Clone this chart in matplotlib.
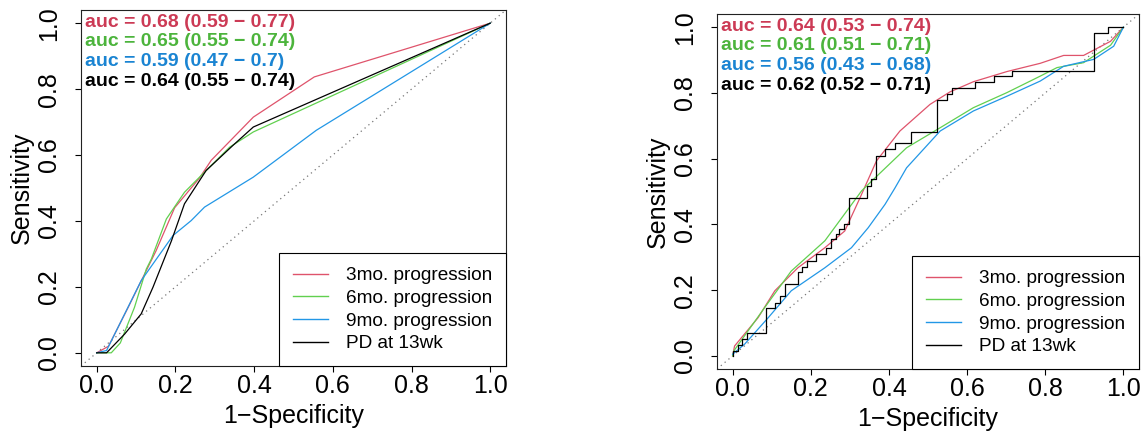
import matplotlib
matplotlib.use('Agg')
import matplotlib.pyplot as plt
from matplotlib.lines import Line2D

plt.rcParams['font.family'] = ['Liberation Sans', 'DejaVu Sans']

# shared
series_labels = ['3mo. progression', '6mo. progression', '9mo. progression', 'PD at 13wk']
series_colors = ['#DF536B', '#61D04F', '#2297E6', '#000000']
text_colors = ['#CC3A55', '#4CB43C', '#1A84D2', '#000000']
tick_values = [0.0, 0.2, 0.4, 0.6, 0.8, 1.0]
tick_labels = ['0.0', '0.2', '0.4', '0.6', '0.8', '1.0']

# left panel
left_3mo_fpr = [0.0, 0.03, 0.08, 0.151, 0.198, 0.261, 0.291, 0.398, 0.553, 1.0]
left_3mo_tpr = [0.0, 0.02, 0.138, 0.31, 0.44, 0.53, 0.584, 0.715, 0.837, 1.0]
left_6mo_fpr = [0.0, 0.037, 0.06, 0.096, 0.126, 0.139, 0.177, 0.223, 0.253, 0.338, 0.398, 1.0]
left_6mo_tpr = [0.0, 0.0, 0.03, 0.138, 0.254, 0.285, 0.406, 0.487, 0.523, 0.624, 0.67, 1.0]
left_9mo_fpr = [0.0, 0.025, 0.113, 0.194, 0.24, 0.274, 0.398, 0.558, 1.0]
left_9mo_tpr = [0.0, 0.007, 0.219, 0.356, 0.401, 0.442, 0.533, 0.675, 1.0]
left_pd_fpr = [0.0, 0.025, 0.071, 0.113, 0.143, 0.19, 0.223, 0.278, 0.346, 0.398, 1.0]
left_pd_tpr = [0.0, 0.0, 0.057, 0.118, 0.199, 0.34, 0.452, 0.553, 0.629, 0.685, 1.0]
left_auc = [0.68, 0.65, 0.59, 0.64]
left_auc_lo = [0.59, 0.55, 0.47, 0.55]
left_auc_hi = [0.77, 0.74, 0.7, 0.74]

# right panel
right_3mo_fpr = [0.0, 0.005, 0.065, 0.108, 0.167, 0.236, 0.287, 0.326, 0.368, 0.428,
                 0.505, 0.556, 0.616, 0.702, 0.787, 0.847, 0.898, 0.967, 1.0]
right_3mo_tpr = [0.0, 0.03, 0.116, 0.198, 0.268, 0.329, 0.38, 0.481, 0.593, 0.684,
                 0.765, 0.803, 0.834, 0.865, 0.89, 0.914, 0.914, 0.957, 1.0]
right_6mo_fpr = [0.0, 0.003, 0.082, 0.15, 0.236, 0.33, 0.356, 0.445, 0.531, 0.616,
                 0.702, 0.787, 0.83, 0.898, 0.967, 1.0]
right_6mo_tpr = [0.0, 0.015, 0.147, 0.258, 0.35, 0.502, 0.532, 0.633, 0.694, 0.755,
                 0.801, 0.851, 0.877, 0.892, 0.945, 1.0]
right_9mo_fpr = [0.0, 0.031, 0.091, 0.15, 0.236, 0.304, 0.347, 0.39, 0.415, 0.445,
                 0.531, 0.616, 0.702, 0.787, 0.847, 0.924, 0.975, 1.0]
right_9mo_tpr = [0.005, 0.036, 0.116, 0.198, 0.268, 0.329, 0.39, 0.461, 0.51, 0.572,
                 0.684, 0.745, 0.79, 0.836, 0.881, 0.902, 0.942, 1.0]
right_pd_fpr = [0.0, 0.0, 0.014, 0.024, 0.037, 0.085, 0.108, 0.12, 0.133, 0.167, 0.178,
                0.191, 0.213, 0.238, 0.251, 0.264, 0.273, 0.285, 0.298, 0.344, 0.355,
                0.368, 0.39, 0.415, 0.456, 0.524, 0.548, 0.561, 0.621, 0.668, 0.715,
                0.925, 0.96, 1.0]
right_pd_tpr = [0.0, 0.015, 0.033, 0.051, 0.071, 0.145, 0.162, 0.182, 0.22, 0.256, 0.27,
                0.29, 0.311, 0.329, 0.355, 0.37, 0.385, 0.402, 0.481, 0.517, 0.537,
                0.608, 0.628, 0.648, 0.682, 0.777, 0.797, 0.816, 0.834, 0.851, 0.866,
                0.981, 1.0, 1.0]
right_auc = [0.64, 0.61, 0.56, 0.62]
right_auc_lo = [0.53, 0.51, 0.43, 0.52]
right_auc_hi = [0.74, 0.71, 0.68, 0.71]


def draw_roc(ax, curves, aucs, los, his, step_last=False):
    ax.axline((0, 0), (1, 1), color='#777777', linestyle=(0, (1, 3)), linewidth=0.9)
    for i, (fpr, tpr) in enumerate(curves):
        ds = 'steps-post' if (step_last and i == len(curves) - 1) else 'default'
        ax.plot(fpr, tpr, color=series_colors[i], linewidth=0.9, drawstyle=ds)

    ax.set_xlim(-0.04, 1.04)
    ax.set_ylim(-0.04, 1.04)
    ax.set_xticks(tick_values)
    ax.set_xticklabels(tick_labels)
    ax.set_yticks(tick_values)
    ax.set_yticklabels(tick_labels, rotation=90, va='center')
    ax.tick_params(axis='both', direction='out', length=4, width=0.8, labelsize=18)
    ax.tick_params(axis='x', pad=2)
    ax.tick_params(axis='y', pad=10.5)
    for sp in ax.spines.values():
        sp.set_linewidth(0.8)
        sp.set_color('#222222')

    ax.set_xlabel('1\u2212Specificity', fontsize=18)
    ax.set_ylabel('Sensitivity', fontsize=18)
    ax.xaxis.set_label_coords(0.5, -0.108)
    ax.yaxis.set_label_coords(-0.112, 0.5)

    # auc annotations
    for i in range(len(aucs)):
        ax.text(0.01, 0.966 - i * 0.0555,
                f'auc = {aucs[i]} ({los[i]} \u2212 {his[i]})',
                transform=ax.transAxes, ha='left', va='center',
                fontsize=14, fontweight='bold', color=text_colors[i])

    handles = [Line2D([], [], color=c, linewidth=1) for c in series_colors]
    leg = ax.legend(handles, series_labels, loc='lower right', bbox_to_anchor=(1, 0),
                    borderaxespad=0, fontsize=13.7, fancybox=False, edgecolor='black',
                    framealpha=1, handlelength=1.85, handletextpad=0.95,
                    labelspacing=0.28, borderpad=0.72)
    leg.get_frame().set_linewidth(0.8)


fig = plt.figure(figsize=(11.47, 4.38), dpi=100)
ax1 = fig.add_axes([0.0706, 0.1644, 0.3705, 0.8128])
ax2 = fig.add_axes([0.6251, 0.1575, 0.368, 0.8105])

draw_roc(ax1,
         [(left_3mo_fpr, left_3mo_tpr), (left_6mo_fpr, left_6mo_tpr),
          (left_9mo_fpr, left_9mo_tpr), (left_pd_fpr, left_pd_tpr)],
         left_auc, left_auc_lo, left_auc_hi)
draw_roc(ax2,
         [(right_3mo_fpr, right_3mo_tpr), (right_6mo_fpr, right_6mo_tpr),
          (right_9mo_fpr, right_9mo_tpr), (right_pd_fpr, right_pd_tpr)],
         right_auc, right_auc_lo, right_auc_hi, step_last=True)

fig.savefig('out.png', dpi=100)
